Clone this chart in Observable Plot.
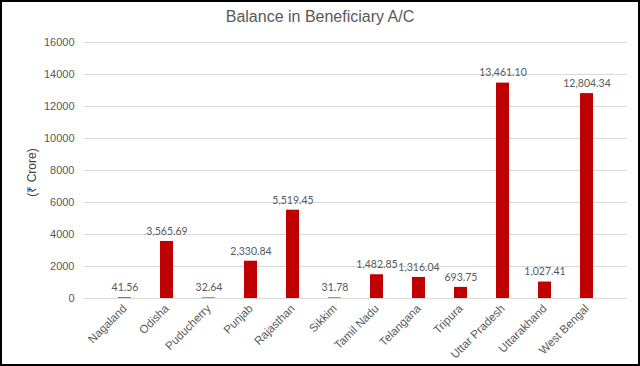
<!DOCTYPE html>
<html><head><meta charset="utf-8">
<script src="https://cdn.jsdelivr.net/npm/d3@7"></script>
<script src="https://cdn.jsdelivr.net/npm/@observablehq/plot@0.6"></script>
<style>
body{margin:0;background:#fff;}
#wrap{width:640px;height:366px;box-sizing:border-box;border:2px solid #000;background:#fff;overflow:hidden;}
#title{height:28px;box-sizing:border-box;padding-top:6px;line-height:20px;text-align:center;font:16px "Liberation Sans",Arial,sans-serif;color:#595959;}
</style></head>
<body><div id="wrap"><div id="title">Balance in Beneficiary A/C</div><div id="chart"></div></div>
<script>
const states = ["Nagaland","Odisha","Puducherry","Punjab","Rajasthan","Sikkim","Tamil Nadu","Telangana","Tripura","Uttar Pradesh","Uttarakhand","West Bengal"];
const balances = [41.56,3565.69,32.64,2330.84,5519.45,31.78,1482.85,1316.04,693.75,13461.10,1027.41,12804.34];
const yTicks = [0,2000,4000,6000,8000,10000,12000,14000,16000];
const yLabel = "(₹ Crore)";

const data = states.map((s,i)=>({state:s,value:balances[i]}));
const fmt = d3.format(",.2f");

const chart = Plot.plot({
  width:636, height:334,
  marginTop:12, marginBottom:66, marginLeft:82, marginRight:11,
  style:{fontFamily:'"Liberation Sans",Arial,sans-serif',fontSize:"11px",color:"#595959",background:"#fff"},
  x:{domain:states, padding:0.69, label:null},
  y:{domain:[0,16000], ticks:yTicks, label:null},
  marks:[
    Plot.gridY(yTicks,{stroke:"#d9d9d9",strokeOpacity:1}),
    Plot.axisY({ticks:yTicks, tickSize:0, tickPadding:10, tickFormat:d3.format("d"), label:null}),
    Plot.axisX({tickSize:0, tickPadding:8, tickRotate:-45, label:null, fontSize:11.5}),
    Plot.barY(data,{x:"state",y:"value",fill:"#c00000"}),
    Plot.text(data,{x:"state",y:"value",text:d=>fmt(d.value),dy:-10,fill:"#595959",fontSize:10.5,fontFamily:'Lato,"Open Sans",sans-serif'}),
    Plot.text([yLabel],{frameAnchor:"left",textAnchor:"middle",dx:-52,dy:2,rotate:-90,text:d=>d,fontSize:12,fill:"#404040"})
  ]
});
document.getElementById("chart").appendChild(chart);
</script></body></html>
